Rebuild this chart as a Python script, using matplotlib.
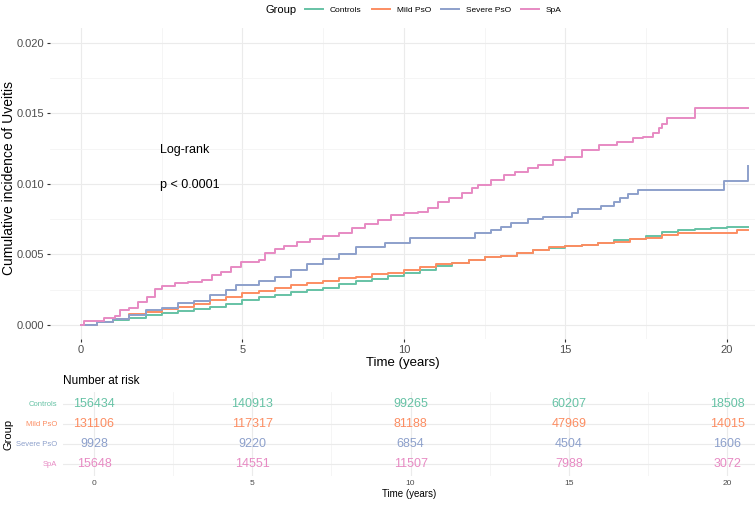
import matplotlib
matplotlib.use("Agg")
import matplotlib.pyplot as plt
from matplotlib.lines import Line2D

plt.rcParams['font.family'] = ['Liberation Sans', 'DejaVu Sans']

groups = ["Controls", "Mild PsO", "Severe PsO", "SpA"]
colors = ["#66C2A5", "#FC8D62", "#8DA0CB", "#E78AC3"]

# cumulative incidence curves
t_controls = [0, 0.5, 1, 1.5, 2, 2.5, 3, 3.5, 4, 4.5, 5, 5.5, 6, 6.5, 7, 7.5, 8, 8.5, 9, 9.5,
              10, 10.5, 11, 11.5, 12, 12.5, 13, 13.5, 14, 14.5, 15, 15.5, 16, 16.5, 17, 17.5,
              18, 18.5, 19, 19.5, 20, 20.65]
y_controls = [0, 0.0002, 0.00035, 0.0005, 0.00067, 0.00085, 0.001, 0.00115, 0.0013, 0.0015,
              0.00178, 0.00195, 0.0021, 0.0023, 0.00245, 0.0026, 0.0029, 0.0031, 0.00325, 0.00345,
              0.0037, 0.0039, 0.0042, 0.0044, 0.0046, 0.0048, 0.0049, 0.0051, 0.0053, 0.00544,
              0.0056, 0.0057, 0.0058, 0.006, 0.0061, 0.0063, 0.0066, 0.0067, 0.0068, 0.0069,
              0.00697, 0.00697]

t_mild = [0, 0.5, 1, 1.5, 2, 2.5, 3, 3.5, 4, 4.5, 5, 5.5, 6, 6.5, 7, 7.5, 8, 8.5, 9, 9.5,
          10, 10.5, 11, 11.5, 12, 12.5, 13, 13.5, 14, 14.5, 15, 15.5, 16, 16.5, 17, 17.5,
          18, 18.5, 20.3, 20.65]
y_mild = [0, 0.0002, 0.00045, 0.00075, 0.0009, 0.0011, 0.0013, 0.0015, 0.00175, 0.002,
          0.00225, 0.0024, 0.0026, 0.0028, 0.003, 0.0031, 0.0033, 0.0034, 0.0036, 0.0037,
          0.0039, 0.0041, 0.0043, 0.0044, 0.0046, 0.0048, 0.0049, 0.0051, 0.0053, 0.0055,
          0.0056, 0.0057, 0.0058, 0.0059, 0.0061, 0.0062, 0.0064, 0.0065, 0.00674, 0.00674]

t_severe = [0, 0.5, 1, 1.5, 2, 2.5, 3, 3.5, 4, 4.5, 4.8, 5.5, 6, 6.5, 7, 7.5, 8, 8.5, 9.4,
            10.2, 12.2, 12.7, 13, 13.3, 13.85, 14.3, 15.2, 15.4, 16.1, 16.5, 16.7, 16.95,
            17.25, 19.9, 20.65]
y_severe = [0, 0.0002, 0.0004, 0.0007, 0.00106, 0.00118, 0.00153, 0.00172, 0.0021, 0.00248,
            0.00284, 0.0031, 0.0034, 0.0039, 0.0043, 0.0047, 0.005, 0.0055, 0.0058,
            0.0062, 0.0065, 0.00674, 0.00697, 0.0072, 0.0075, 0.00768, 0.00797, 0.0082,
            0.00844, 0.00874, 0.009, 0.00927, 0.00957, 0.0102, 0.0113]

t_spa = [0, 0.1, 0.7, 1.05, 1.2, 1.5, 1.75, 2.05, 2.3, 2.5, 2.9, 3.3, 3.75, 4.05, 4.35, 4.65,
         4.95, 5.5, 5.7, 6, 6.3, 6.7, 7.1, 7.5, 8, 8.4, 8.8, 9.2, 9.6, 10, 10.45, 10.75, 11.05,
         11.4, 11.8, 12.1, 12.3, 12.7, 13.1, 13.45, 13.85, 14.15, 14.6, 15, 15.5, 16.05, 16.6,
         17.1, 17.4, 17.7, 17.9, 18, 18.15, 19, 20.65]
y_spa = [0, 0.0003, 0.00047, 0.0006, 0.00106, 0.0012, 0.00165, 0.002, 0.00253, 0.00277,
         0.00296, 0.00307, 0.0032, 0.00355, 0.00378, 0.00414, 0.00449, 0.0046, 0.00508,
         0.00537, 0.0056, 0.0059, 0.0061, 0.0063, 0.0065, 0.00686, 0.00716, 0.00745, 0.0078,
         0.00792, 0.008, 0.00827, 0.00875, 0.009, 0.00934, 0.0097, 0.0099, 0.01028, 0.01064,
         0.01087, 0.0111, 0.01135, 0.0117, 0.01194, 0.0124, 0.01277, 0.013, 0.01324, 0.01335,
         0.0136, 0.01395, 0.01423, 0.0147, 0.0154, 0.0154]

# number at risk table
risk_times = [0, 5, 10, 15, 20]
risk_controls = [156434, 140913, 99265, 60207, 18508]
risk_mild = [131106, 117317, 81188, 47969, 14015]
risk_severe = [9928, 9220, 6854, 4504, 1606]
risk_spa = [15648, 14551, 11507, 7988, 3072]

curves = [(t_controls, y_controls), (t_mild, y_mild), (t_severe, y_severe), (t_spa, y_spa)]
risk = [risk_controls, risk_mild, risk_severe, risk_spa]

W, H = 755, 507
fig = plt.figure(figsize=(W / 100, H / 100), dpi=100)

def px_axes(l, t, r, b):
    return fig.add_axes([l / W, 1 - b / H, (r - l) / W, (b - t) / H])

grid_major = "#EBEBEB"
grid_minor = "#F4F4F4"
tick_col = "#4D4D4D"

# main plot
ax = px_axes(50, 27.5, 755, 339)
for (tt, yy), c in zip(curves, colors):
    ax.step(tt, yy, where="post", color=c, lw=1.4)
ax.set_xlim(-0.96, 20.87)
ax.set_ylim(-0.001, 0.0211)
ax.set_xticks(risk_times)
ax.set_xticks([2.5, 7.5, 12.5, 17.5], minor=True)
ax.set_yticks([0, 0.005, 0.01, 0.015, 0.02])
ax.set_yticklabels(["0.000", "0.005", "0.010", "0.015", "0.020"])
ax.set_yticks([0.0025, 0.0075, 0.0125, 0.0175], minor=True)
ax.grid(which="major", color=grid_major, lw=0.8)
ax.grid(which="minor", color=grid_minor, lw=0.6)
ax.set_axisbelow(True)
for s in ax.spines.values():
    s.set_visible(False)
ax.tick_params(which="major", length=2.5, color="#333333", labelcolor=tick_col, labelsize=8, pad=2)
ax.tick_params(which="minor", length=0)
ax.set_xlabel("Time (years)", fontsize=9.5, labelpad=1)
fig.text(9 / W, 1 - 178 / H, "Cumulative incidence of Uveitis", fontsize=10,
         rotation=90, ha="center", va="center")
ax.text(2.45, 0.0124, "Log-rank", fontsize=9, va="center", ha="left")
ax.text(2.45, 0.0099, "p < 0.0001", fontsize=9, va="center", ha="left")

# legend at top
fig.text(265 / W, 1 - 10 / H, "Group", fontsize=8, va="center", ha="left")
handles = [Line2D([0], [0], color=c, lw=1.4) for c in colors]
fig.legend(handles, groups, loc="center left", bbox_to_anchor=(305 / W, 1 - 10 / H),
           ncol=4, frameon=False, fontsize=6, handlelength=2.2, handletextpad=0.8,
           columnspacing=1.2, borderpad=0, borderaxespad=0)

# risk table
rt = px_axes(63, 392, 755, 476)
rows = [4, 3, 2, 1]
for n, c, r in zip(risk, colors, rows):
    for x, v in zip(risk_times, n):
        rt.text(x, r, str(v), color=c, fontsize=9, ha="center", va="center")
rt.set_xlim(-0.98, 20.88)
rt.set_ylim(0.4, 4.6)
rt.set_xticks(risk_times)
rt.set_xticks([2.5, 7.5, 12.5, 17.5], minor=True)
rt.set_yticks(rows)
rt.set_yticklabels(groups)
for lab, c in zip(rt.get_yticklabels(), colors):
    lab.set_color(c)
rt.grid(which="major", color=grid_major, lw=0.8)
rt.grid(which="minor", axis="x", color=grid_minor, lw=0.6)
rt.set_axisbelow(True)
for s in rt.spines.values():
    s.set_visible(False)
rt.tick_params(axis="x", which="major", length=0, labelcolor=tick_col, labelsize=6, pad=3)
rt.tick_params(axis="y", length=0, labelsize=5.5, pad=4)
rt.tick_params(which="minor", length=0)
rt.set_xlabel("Time (years)", fontsize=7, labelpad=1)
fig.text(8 / W, 1 - 434 / H, "Group", fontsize=8, rotation=90, ha="center", va="center")
fig.text(63 / W, 1 - 381 / H, "Number at risk", fontsize=8.5, va="center", ha="left")

fig.savefig("out.png", dpi=100)
